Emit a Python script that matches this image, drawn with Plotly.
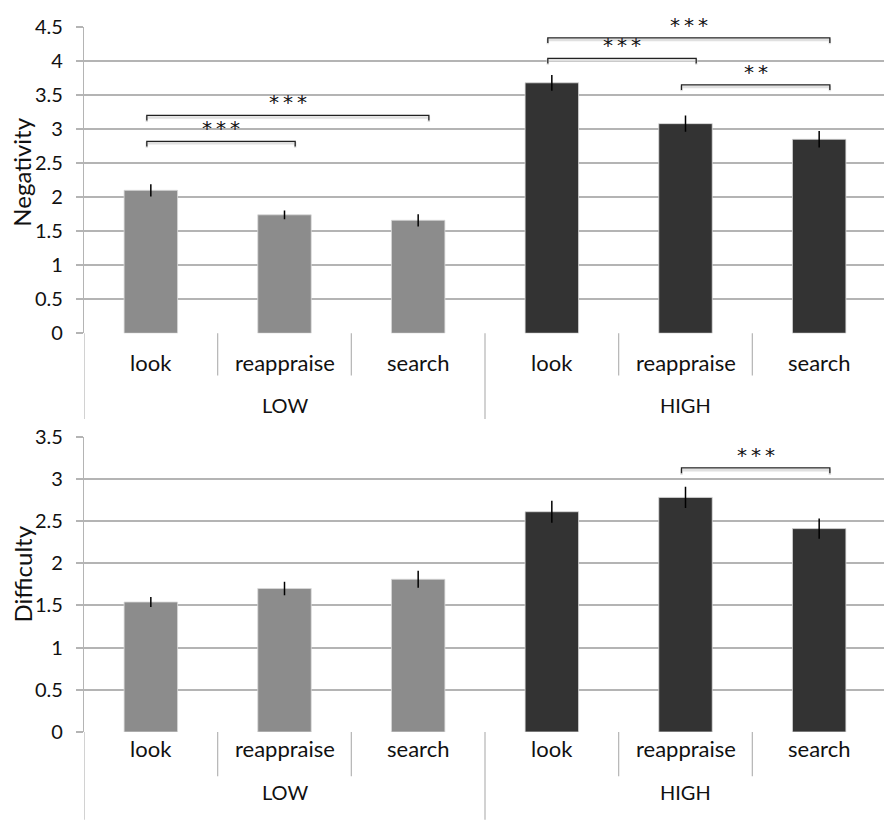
import plotly.graph_objects as go
from plotly.subplots import make_subplots

# data
strategies = ['look', 'reappraise', 'search', 'look', 'reappraise', 'search']
groups = ['LOW', 'HIGH']

negativity = [2.10, 1.74, 1.66, 3.68, 3.08, 2.85]
negativity_err = [0.09, 0.065, 0.09, 0.115, 0.12, 0.12]

difficulty = [1.54, 1.70, 1.81, 2.61, 2.78, 2.41]
difficulty_err = [0.06, 0.08, 0.10, 0.13, 0.125, 0.12]

# significance brackets: (from bar, to bar, height, label)
neg_brackets = [(0, 1, 2.82, '***'), (0, 2, 3.20, '***'),
                (3, 4, 4.04, '***'), (3, 5, 4.34, '***'), (4, 5, 3.65, '**')]
diff_brackets = [(4, 5, 3.13, '***')]

bar_colors = ['#8c8c8c'] * 3 + ['#333333'] * 3
grid_col = '#b4b4b4'
font_fam = 'Lato'

# page body has an 8px margin, so the figure is shifted by that much
OFF = 8
W, H = 892 - OFF, 827 - OFF
ml, mt = 84 - OFF, 16 - OFF
mr, mb = 6, 95
ph = H - mt - mb


def py(pix):
  # page pixel row -> paper y
  return (H - mb - (pix - OFF)) / ph


def px(pix):
  # page pixel column -> paper x
  return (pix - OFF - ml) / (W - ml - mr)


fig = make_subplots(rows=2, cols=1, vertical_spacing=0.05)
fig.update_layout(yaxis=dict(domain=[py(327), 1]), yaxis2=dict(domain=[0, py(432)]))

xs = list(range(len(strategies)))

for row, vals, errs, brackets, tick_half in [
    (1, negativity, negativity_err, neg_brackets, 0.075),
    (2, difficulty, difficulty_err, diff_brackets, 0.065)]:
  xr, yr = ('x', 'y') if row == 1 else ('x2', 'y2')
  fig.add_trace(go.Bar(
    x=xs, y=vals, width=0.4,
    marker=dict(color=bar_colors, line=dict(color='#d9d9d9', width=0.8)),
    error_y=dict(type='data', array=errs, color='black', thickness=1.5, width=0),
    showlegend=False, hoverinfo='skip'
  ), row=row, col=1)
  for a, b, h, lab in brackets:
    x0, x1 = a - 0.03, b + 0.08
    # soft shadow under the bracket
    fig.add_trace(go.Scatter(
      x=[x0, x0, x1, x1], y=[h - tick_half - 0.02, h - 0.03, h - 0.03, h - tick_half - 0.02],
      mode='lines', line=dict(color='#e0e0e0', width=2.5),
      showlegend=False, hoverinfo='skip', cliponaxis=False
    ), row=row, col=1)
    fig.add_trace(go.Scatter(
      x=[x0, x0, x1, x1], y=[h - tick_half, h, h, h - tick_half],
      mode='lines', line=dict(color='#222222', width=1.3),
      showlegend=False, hoverinfo='skip', cliponaxis=False
    ), row=row, col=1)
    fig.add_annotation(x=(x0 + x1) / 2, y=h, yshift=13, text='\u2009'.join(lab), showarrow=False,
                       font=dict(family='DejaVu Sans', size=20, color='#111'),
                       xref=xr, yref=yr)

axis_common = dict(showgrid=True, gridcolor=grid_col, gridwidth=1.5,
                   zeroline=False, showline=True, linecolor=grid_col, linewidth=1.2,
                   ticks='outside', ticklen=7, tickcolor=grid_col, tickwidth=1.5,
                   ticklabelstandoff=9,
                   tickfont=dict(family=font_fam, size=20, color='#111'))
fig.update_yaxes(range=[0, 4.5], dtick=0.5, row=1, col=1, **axis_common)
fig.update_yaxes(range=[0, 3.5], dtick=0.5, row=2, col=1, **axis_common)
fig.update_xaxes(range=[-0.5, 5.5], showticklabels=False, showgrid=False,
                 zeroline=False, showline=False, ticks='')

# category / group labels and separators under each panel
panels = [
  dict(xref='x', axis_pix=327, cat_pix=357, grp_pix=400, short_pix=370, long_pix=414,
       title='Negativity', title_pix=(22, 164)),
  dict(xref='x2', axis_pix=732, cat_pix=764, grp_pix=807, short_pix=777, long_pix=821,
       title='Difficulty', title_pix=(22, 572)),
]
for p in panels:
  for i, s in enumerate(strategies):
    fig.add_annotation(x=i, y=py(p['cat_pix']), xref=p['xref'], yref='paper', text=s,
                       showarrow=False, font=dict(family=font_fam, size=22, color='#111'))
  for g, grp in enumerate(groups):
    fig.add_annotation(x=g * 3 + 1, y=py(p['grp_pix']), xref=p['xref'], yref='paper', text=grp,
                       showarrow=False, font=dict(family=font_fam, size=20, color='#111'))
  for k in range(7):
    end = p['long_pix'] if k % 3 == 0 else p['short_pix']
    fig.add_shape(type='line', x0=k - 0.5, x1=k - 0.5, y0=py(p['axis_pix']), y1=py(end),
                  xref=p['xref'], yref='paper', line=dict(color=grid_col, width=1.2))
  tx, ty = p['title_pix']
  fig.add_annotation(x=px(tx), y=py(ty), xref='paper', yref='paper',
                     xanchor='center', yanchor='middle',
                     text=p['title'], textangle=-90, showarrow=False,
                     font=dict(family=font_fam, size=24, color='#111'))

fig.update_layout(
  width=W, height=H,
  margin=dict(l=ml, r=mr, t=mt, b=mb),
  plot_bgcolor='white', paper_bgcolor='white',
  bargap=0.6,
)

fig.write_html("out.html")
